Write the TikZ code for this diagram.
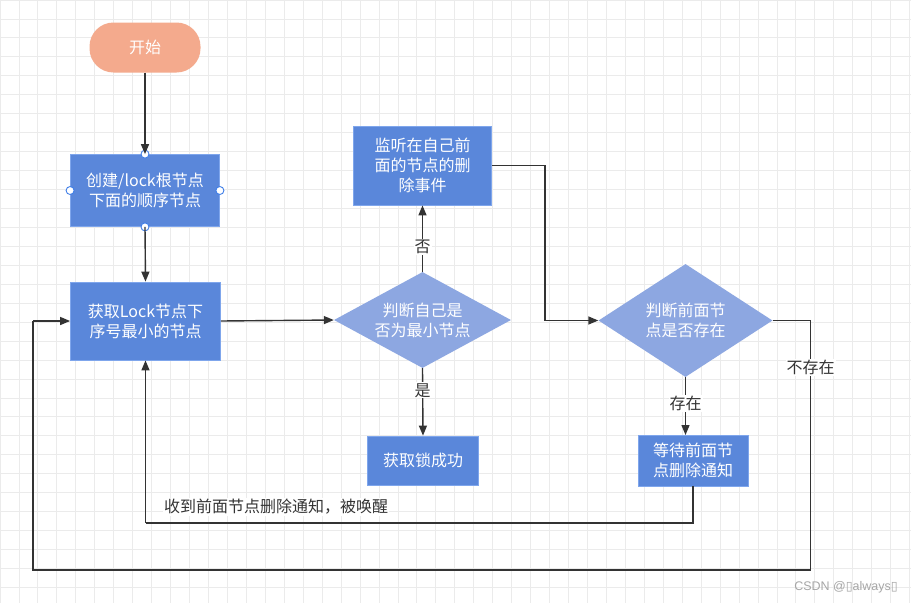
\documentclass[tikz,border=0pt]{standalone}
\usepackage{fontspec}
\setmainfont{Noto Sans CJK SC}
\newfontfamily\wmfont{Liberation Sans}
\newfontfamily\symfont{DejaVu Sans}
\usetikzlibrary{arrows.meta,shapes.geometric}
\definecolor{boxblue}{HTML}{5A87DA}
\definecolor{boxedge}{HTML}{7FA6EC}
\definecolor{diablue}{HTML}{8DA7E1}
\definecolor{startfill}{HTML}{F4AA8D}
\definecolor{linecol}{HTML}{333333}
\definecolor{gridcol}{HTML}{EBEBEB}
\definecolor{handle}{HTML}{3F7EE8}
\tikzset{
  txt/.style={font=\fontsize{16}{20}\selectfont, align=center, text=white},
  boxnode/.style={txt, rectangle, fill=boxblue, draw=boxedge, line width=0.8pt, inner sep=0pt},
  dianode/.style={txt, diamond, fill=diablue, inner sep=0pt},
  conn/.style={draw=linecol, line width=1.4pt, -{Triangle[length=10pt,width=8pt]}},
  plain/.style={draw=linecol, line width=1.4pt},
  lbl/.style={font=\fontsize{16}{18}\selectfont, text=linecol, fill=white, inner sep=1pt},
  hnd/.style={circle, fill=white, draw=handle, line width=0.9pt, minimum size=8pt, inner sep=0pt}
}
\begin{document}
\begin{tikzpicture}[x=1pt,y=-1pt]
\useasboundingbox (0,0) rectangle (911,603);
\fill[white] (0,0) rectangle (911,603);
\foreach \i in {0,...,48} \draw[gridcol, line width=0.9pt] (\i*18.95,0) -- (\i*18.95,603);
\foreach \j in {0,...,31} \draw[gridcol, line width=0.9pt] (0,\j*18.95) -- (911,\j*18.95);

% nodes
\node[txt, rectangle, fill=startfill, rounded corners=24pt, minimum width=111pt, minimum height=50pt, inner sep=0pt] (start) at (145,47.5) {开始};
\node[boxnode, minimum width=149pt, minimum height=72pt] (create) at (145,190.5) {创建/lock根节点\\下面的顺序节点};
\node[boxnode, minimum width=150pt, minimum height=78pt] (getmin) at (145.5,321) {获取Lock节点下\\序号最小的节点};
\node[dianode, aspect=1.84, minimum width=177pt, minimum height=96pt] (d1) at (422.5,320) {判断自己是\\否为最小节点};
\node[boxnode, minimum width=138pt, minimum height=79pt] (watch) at (422.5,165.5) {监听在自己前\\面的节点的删\\除事件};
\node[boxnode, minimum width=111pt, minimum height=49pt] (ok) at (423,460.5) {获取锁成功};
\node[dianode, aspect=1.54, minimum width=174pt, minimum height=113pt] (d2) at (685.5,320.5) {判断前面节\\点是否存在};
\node[boxnode, minimum width=110pt, minimum height=51pt] (wait) at (693,460.5) {等待前面节\\点删除通知};

% handles on the create box
\node[hnd] (h1) at (create.north) {};
\node[hnd] (h2) at (create.south) {};
\node[hnd] (h3) at (create.west) {};
\node[hnd] (h4) at (create.east) {};

% connectors
\draw[conn] (start.south) -- (create.north);
\draw[conn] (create.south) -- (getmin.north);
\draw[conn] (getmin.east) -- (d1.west);
\draw[conn] (d1.north) -- node[lbl, pos=0.37] (no) {否} (watch.south);
\draw[conn] (d1.south) -- node[lbl, pos=0.33] (yes) {是} (ok.north);
\coordinate (t1) at (545,320.5);
\draw[conn] (watch.east) -| (t1) -- (d2.west);
\coordinate (t2) at (685.5,435);
\draw[conn] (d2.south) -- node[lbl, pos=0.45] (exist) {存在} (t2);
\coordinate (w1) at (693,523);
\coordinate (w2) at (145.5,523);
\draw[plain] (wait.south) -- (w1) -- (w2);
\draw[conn] (w2) -- (getmin.south);
\node[lbl, anchor=west] (wake) at (163,507) {收到前面节点删除通知，被唤醒};
\coordinate (r0) at (810.5,320.5);
\coordinate (r1) at (810.5,570);
\coordinate (l1) at (33,570);
\coordinate (l2) at (33,321);
\draw[plain] (d2.east) -- (r0) -- (r1) -- (l1) -- (l2);
\draw[conn] (l2) -- (getmin.west);
\node[lbl] (noexist) at (810.5,367.5) {不存在};

% watermark
\node[anchor=east, text=gray!70, font=\wmfont\fontsize{12.5}{14}\selectfont, inner sep=0pt] (wm) at (898,587) {CSDN @{\symfont ▯}always{\symfont ▯}};
\end{tikzpicture}
\end{document}
